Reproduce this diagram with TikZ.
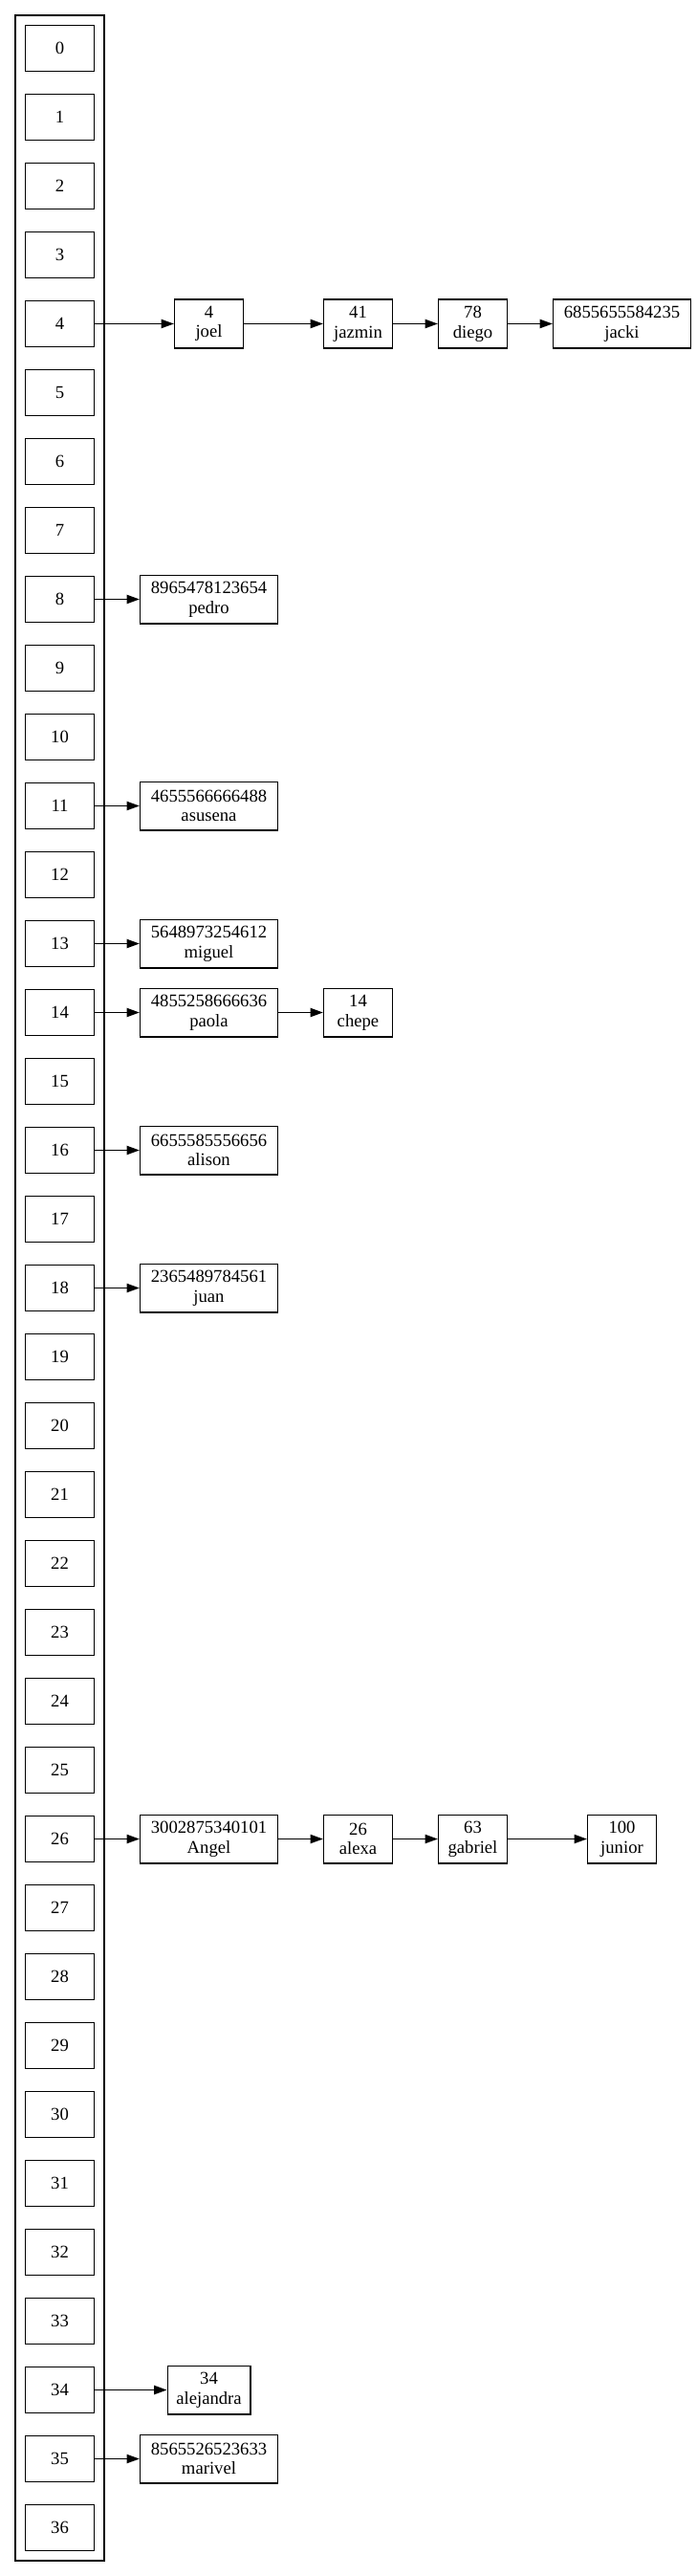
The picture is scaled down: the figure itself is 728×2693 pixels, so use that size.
\documentclass[tikz,border=0pt]{standalone}
\usepackage{fontspec}
\setmainfont{Liberation Serif}
\usetikzlibrary{arrows.meta, positioning}

\tikzset{
  cubeta/.style={draw, line width=1pt, minimum width=54pt, minimum height=36pt, inner sep=0pt},
  dato/.style={draw, line width=1pt, minimum width=54pt, minimum height=38pt, inner sep=0pt, align=center},
  largo/.style={dato, minimum width=108pt},
  flecha/.style={line width=1pt, -{Triangle[length=10pt, width=7pt]}}
}

\begin{document}
\begin{tikzpicture}[x=0.75pt, y=-0.75pt, font=\fontsize{14pt}{15.5pt}\selectfont]
    \useasboundingbox (0,0) rectangle (728,2693);

    % contenedor de la tabla
    \draw[line width=1pt] (16,16) rectangle (109,2677);

    % casillas 0..36
    \foreach \i in {0,...,36}
        \node[cubeta] (c\i) at (62.5, 50.5+72*\i) {\i};

    % casilla 4
    \node[dato] (joel) at (218.5,338.5) {4\\joel};
    \node[dato] (jazmin) at (374.5,338.5) {41\\jazmin};
    \node[dato] (diego) at (494.5,338.5) {78\\diego};
    \node[largo] (jacki) at (650.5,338.5) {6855655584235\\jacki};
    \draw[flecha] (c4) -- (joel);
    \draw[flecha] (joel) -- (jazmin);
    \draw[flecha] (jazmin) -- (diego);
    \draw[flecha] (diego) -- (jacki);

    % casilla 8
    \node[largo] (pedro) at (218.5,626.5) {8965478123654\\pedro};
    \draw[flecha] (c8) -- (pedro);

    % casilla 11
    \node[largo] (asusena) at (218.5,842.5) {4655566666488\\asusena};
    \draw[flecha] (c11) -- (asusena);

    % casilla 13
    \node[largo] (miguel) at (218.5,986.5) {5648973254612\\miguel};
    \draw[flecha] (c13) -- (miguel);

    % casilla 14
    \node[largo] (paola) at (218.5,1058.5) {4855258666636\\paola};
    \node[dato] (chepe) at (374.5,1058.5) {14\\chepe};
    \draw[flecha] (c14) -- (paola);
    \draw[flecha] (paola) -- (chepe);

    % casilla 16
    \node[largo] (alison) at (218.5,1202.5) {6655585556656\\alison};
    \draw[flecha] (c16) -- (alison);

    % casilla 18
    \node[largo] (juan) at (218.5,1346.5) {2365489784561\\juan};
    \draw[flecha] (c18) -- (juan);

    % casilla 26
    \node[largo] (angel) at (218.5,1922.5) {3002875340101\\Angel};
    \node[dato] (alexa) at (374.5,1922.5) {26\\alexa};
    \node[dato] (gabriel) at (494.5,1922.5) {63\\gabriel};
    \node[dato] (junior) at (650.5,1922.5) {100\\junior};
    \draw[flecha] (c26) -- (angel);
    \draw[flecha] (angel) -- (alexa);
    \draw[flecha] (alexa) -- (gabriel);
    \draw[flecha] (gabriel) -- (junior);

    % casilla 34
    \node[dato, minimum width=65pt] (alejandra) at (218.5,2498.5) {34\\alejandra};
    \draw[flecha] (c34) -- (alejandra);

    % casilla 35
    \node[largo] (marivel) at (218.5,2570.5) {8565526523633\\marivel};
    \draw[flecha] (c35) -- (marivel);

\end{tikzpicture}
\end{document}
